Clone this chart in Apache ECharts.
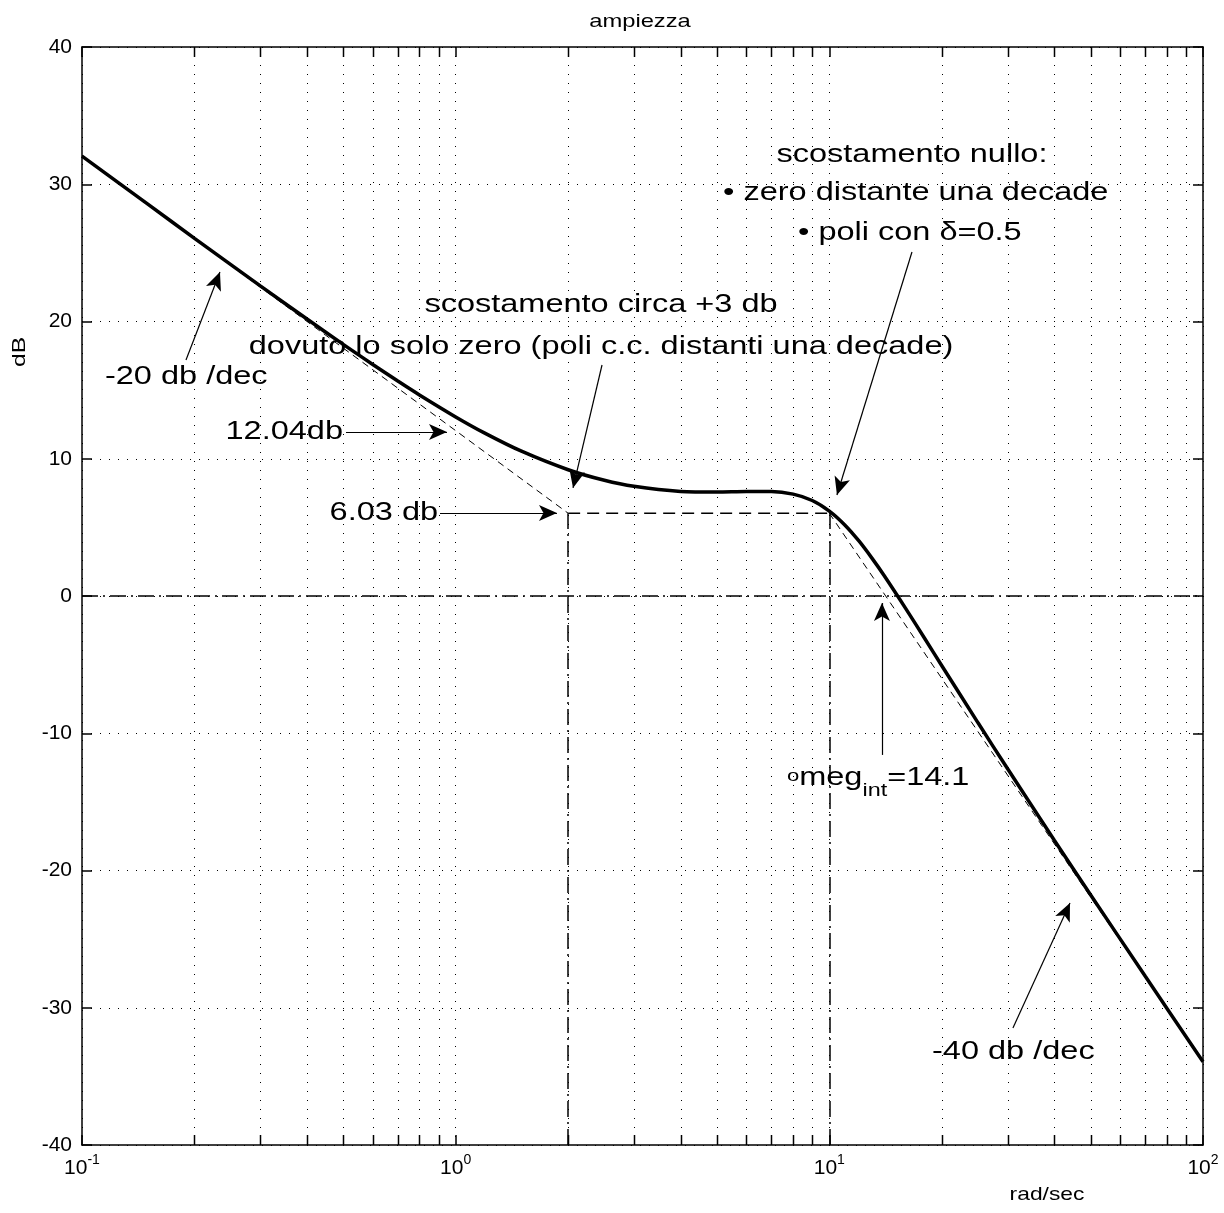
<!DOCTYPE html>
<html>
<head>
<meta charset="utf-8">
<script src="https://cdn.jsdelivr.net/npm/echarts@6/dist/echarts.min.js"></script>
<style>
html,body{margin:0;padding:0;background:#fff}
#main{width:1224px;height:1213px}
</style>
</head>
<body>
<div id="main"></div>
<script>
// modulo della risposta in frequenza
const freq = [0.1,0.15,0.2,0.3,0.4,0.5,0.6,0.7,0.8,1,1.2,1.5,2,2.5,3,4,5,6,7,8,9,10,11,12,13,14,16,18,20,25,30,40,50,70,100];
const ampDb = [32.05,28.55,26.06,22.60,20.18,18.33,16.87,15.66,14.65,13.05,11.85,10.55,9.20,8.43,7.99,7.62,7.57,7.61,7.61,7.42,6.96,6.19,5.18,4.01,2.76,1.51,-0.90,-3.10,-5.08,-9.24,-12.59,-17.79,-21.76,-27.69,-33.94];

// asintoti
const asymFreq = [0.1, 2, 10, 100];
const asymDb = [32.04, 6.03, 6.03, -33.97];

// griglia secondaria (2..9 per decade)
const minorFreq = [0.2,0.3,0.4,0.5,0.6,0.7,0.8,0.9,2,3,4,5,6,7,8,9,20,30,40,50,60,70,80,90];

// annotazioni in coordinate dati
const notes = [
  {text:'-20 db /dec', x:0.1152, y:15.96, align:'left'},
  {text:'12.04db', x:0.4994, y:11.95, align:'right'},
  {text:'6.03 db', x:0.897, y:6.05, align:'right'},
  {text:'scostamento circa +3 db', x:2.449, y:21.2, align:'center'},
  {text:'dovuto lo solo zero (poli c.c. distanti una decade)', x:2.449, y:18.14, align:'center'},
  {text:'scostamento nullo:', x:16.64, y:32.13, align:'center'},
  {text:'\u2022 zero distante una decade', x:5.193, y:29.36, align:'left'},
  {text:'\u2022 poli con \u03b4=0.5', x:8.243, y:26.45, align:'left'},
  {text:'{o|o}meg{sub|int}=14.1', x:7.70, y:-13.26, align:'left'},
  {text:'-40 db /dec', x:18.83, y:-33.22, align:'left'}
];
const arrows = [
  [[0.1898,17.2],[0.2340,23.6]],
  [[0.5087,11.95],[0.948,11.95]],
  [[0.908,6.05],[1.867,6.05]],
  [[2.464,16.83],[2.061,7.87]],
  [[16.64,25.06],[10.48,7.36]],
  [[13.83,-11.58],[13.83,-0.51]],
  [[31.0,-31.48],[44.06,-22.37]]
];

const FONT = '"Liberation Sans", Arial, sans-serif';
const chart = echarts.init(document.getElementById('main'));

const axisLine = {show:true, onZero:false, lineStyle:{color:'#000', width:1.5}};
const tick = {show:true, inside:true, length:10, lineStyle:{color:'#000', width:1.5}};
const dotted = {show:true, lineStyle:{color:'#000', width:1, type:[1,8]}};

const opt = {
  animation:false,
  backgroundColor:'#fff',
  grid:{left:82, right:21, top:47, bottom:68},
  xAxis:[
    {
      type:'log', logBase:10, min:0.1, max:100,
      axisLine:axisLine, axisTick:tick, splitLine:dotted,
      axisLabel:{
        margin:8,
        formatter:function(v){ return '{b|10}{s|' + Math.round(Math.log10(v)) + '}'; },
        rich:{
          b:{fontSize:21, fontFamily:FONT, color:'#000', lineHeight:26, verticalAlign:'bottom'},
          s:{fontSize:14, fontFamily:FONT, color:'#000', lineHeight:26, verticalAlign:'top'}
        }
      }
    },
    {
      type:'log', logBase:10, min:0.1, max:100, position:'top',
      axisLine:axisLine, axisTick:tick, axisLabel:{show:false}, splitLine:{show:false}
    }
  ],
  yAxis:[
    {
      type:'value', min:-40, max:40, interval:10,
      axisLine:axisLine, axisTick:tick, splitLine:dotted,
      axisLabel:{margin:10, fontSize:21, fontFamily:FONT, color:'#000'}
    },
    {
      type:'value', min:-40, max:40, interval:10, position:'right',
      axisLine:axisLine, axisTick:tick, axisLabel:{show:false}, splitLine:{show:false}
    }
  ],
  series:[
    {
      type:'custom', name:'griglia', z:1, silent:true,
      data:minorFreq.map(f => [f, -40]),
      encode:{x:0, y:1},
      renderItem:function(params, api){
        const f = api.value(0);
        const top = api.coord([f, 40]);
        const bot = api.coord([f, -40]);
        const x = Math.round(top[0]) + 0.5;
        return {type:'group', children:[
          {type:'line', shape:{x1:x, y1:top[1], x2:x, y2:bot[1]}, style:{stroke:'#000', lineWidth:1, lineDash:[1,8]}},
          {type:'line', shape:{x1:x, y1:bot[1], x2:x, y2:bot[1]-10}, style:{stroke:'#000', lineWidth:1.5}},
          {type:'line', shape:{x1:x, y1:top[1], x2:x, y2:top[1]+10}, style:{stroke:'#000', lineWidth:1.5}}
        ]};
      }
    },
    {
      type:'line', name:'asintoto -20', z:2, silent:true, symbol:'none',
      data:[[asymFreq[0], asymDb[0]], [asymFreq[1], asymDb[1]]],
      lineStyle:{color:'#000', width:1, type:[7,5]}
    },
    {
      type:'line', name:'asintoto piatto', z:2, silent:true, symbol:'none',
      data:[[asymFreq[1], asymDb[1]], [asymFreq[2], asymDb[2]]],
      lineStyle:{color:'#000', width:1.5, type:[12,7]},
      markLine:{
        silent:true, symbol:['none','none'], label:{show:false},
        lineStyle:{color:'#000', width:1.5, type:[16,5,2,5]},
        data:[
          {yAxis:0},
          [{coord:[asymFreq[1], -40]}, {coord:[asymFreq[1], asymDb[1]]}],
          [{coord:[asymFreq[2], -40]}, {coord:[asymFreq[2], asymDb[2]]}]
        ]
      }
    },
    {
      type:'line', name:'asintoto -40', z:2, silent:true, symbol:'none',
      data:[[asymFreq[2], asymDb[2]], [asymFreq[3], asymDb[3]]],
      lineStyle:{color:'#000', width:1, type:[7,5]}
    },
    {
      type:'line', name:'ampiezza', z:3, silent:true, symbol:'none', smooth:0.3,
      data:freq.map((f, i) => [f, ampDb[i]]),
      lineStyle:{color:'#000', width:3.5},
      markLine:{
        silent:true, symbol:['none','arrow'], symbolSize:[12,18], label:{show:false},
        lineStyle:{color:'#000', width:1.2, type:'solid'},
        data:arrows.map(a => [{coord:a[0]}, {coord:a[1]}])
      }
    }
  ]
};
chart.setOption(opt);

const txtStyle = (text, align) => ({
  text:text, fill:'#000', font:'25px ' + FONT,
  align:align, textAlign:align, verticalAlign:'middle', textVerticalAlign:'middle',
  lineHeight:44,
  rich:{
    sub:{fontSize:18, fontFamily:FONT, lineHeight:44, verticalAlign:'bottom'},
    o:{fontSize:17, fontFamily:FONT, lineHeight:26, verticalAlign:'middle', padding:[0,0,4,0]}
  }
});

const graphics = notes.map(n => {
  const p = chart.convertToPixel({xAxisIndex:0, yAxisIndex:0}, [n.x, n.y]);
  return {type:'text', x:p[0], y:p[1], scaleX:1.3, silent:true, style:txtStyle(n.text, n.align)};
});
const smallText = (text) => ({text:text, fill:'#000', font:'19px ' + FONT, align:'center', textAlign:'center', verticalAlign:'middle', textVerticalAlign:'middle'});
graphics.push(
  {type:'text', x:640, y:22, scaleX:1.25, silent:true, style:smallText('ampiezza')},
  {type:'text', x:1047, y:1195, scaleX:1.2, silent:true, style:smallText('rad/sec')},
  {type:'text', x:20, y:352, rotation:Math.PI/2, scaleX:1.3, silent:true, style:smallText('dB')}
);
chart.setOption({graphic:graphics});
</script>
</body>
</html>
